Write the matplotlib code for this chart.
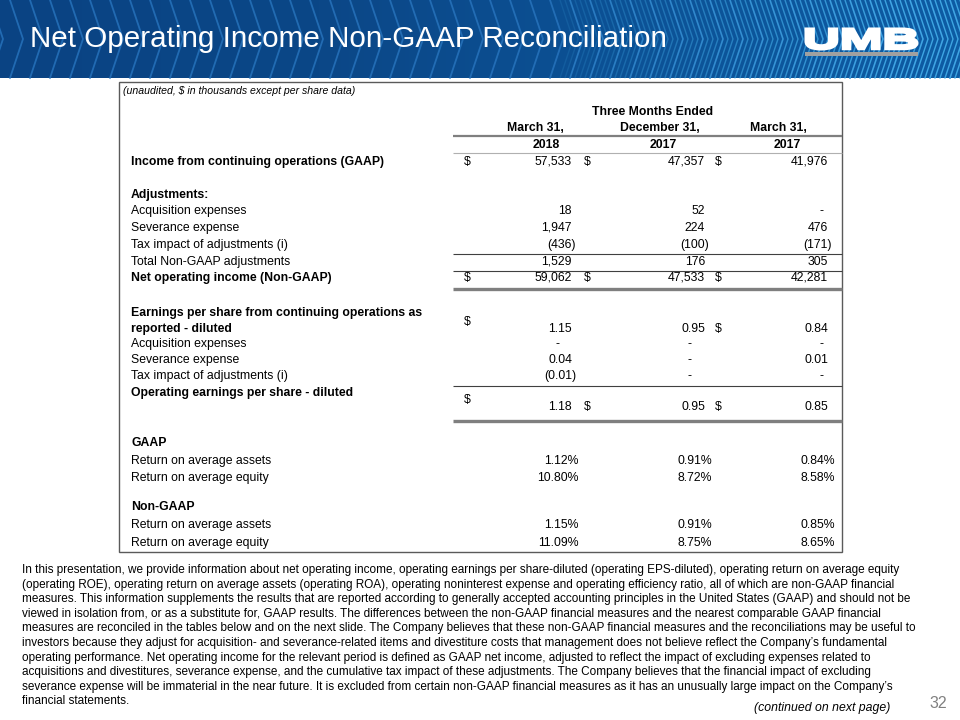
import numpy as np
import matplotlib
matplotlib.use("Agg")
import matplotlib.pyplot as plt
from matplotlib.colors import LinearSegmentedColormap
from matplotlib.textpath import TextPath
from matplotlib.font_manager import FontProperties
from matplotlib.patches import PathPatch, Rectangle
from matplotlib.transforms import Affine2D

# ---- data ----
title = "Net Operating Income Non-GAAP Reconciliation"
col_heads = ["March 31,", "December 31,", "March 31,"]
col_years = ["2018", "2017", "2017"]

row_labels = [
    "Income from continuing operations (GAAP)",
    "Adjustments:",
    "Acquisition expenses",
    "Severance expense",
    "Tax impact of adjustments (i)",
    "Total Non-GAAP adjustments",
    "Net operating income (Non-GAAP)",
    "Earnings per share from continuing operations as\nreported - diluted",
    "Acquisition expenses",
    "Severance expense",
    "Tax impact of adjustments (i)",
    "Operating earnings per share - diluted",
    "GAAP",
    "Return on average assets",
    "Return on average equity",
    "Non-GAAP",
    "Return on average assets",
    "Return on average equity",
]
row_bold = [1, 1, 0, 0, 0, 0, 1, 1, 0, 0, 0, 1, 1, 0, 0, 1, 0, 0]
row_kind = ["int"] * 7 + ["eps"] * 5 + ["pct"] * 6

mar_2018 = [57533, None, 18, 1947, -436, 1529, 59062,
            1.15, 0, 0.04, -0.01, 1.18, None, 1.12, 10.80, None, 1.15, 11.09]
dec_2017 = [47357, None, 52, 224, -100, 176, 47533,
            0.95, 0, 0, 0, 0.95, None, 0.91, 8.72, None, 0.91, 8.75]
mar_2017 = [41976, None, 0, 476, -171, 305, 42281,
            0.84, 0, 0.01, 0, 0.85, None, 0.84, 8.58, None, 0.85, 8.65]

# which cells carry a "$"
dollar_rows = {0: [1, 1, 1], 6: [1, 1, 1], 7: [1, 0, 1], 11: [1, 1, 1]}

body = [
    "In this presentation, we provide information about net operating income, operating earnings per share-diluted (operating EPS-diluted), operating return on average equity",
    "(operating ROE), operating return on average assets (operating ROA), operating noninterest expense and operating efficiency ratio, all of which are non-GAAP financial",
    "measures. This information supplements the results that are reported according to generally accepted accounting principles in the United States (GAAP) and should not be",
    "viewed in isolation from, or as a substitute for, GAAP results. The differences between the non-GAAP financial measures and the nearest comparable GAAP financial",
    "measures are reconciled in the tables below and on the next slide. The Company believes that these non-GAAP financial measures and the reconciliations may be useful to",
    "investors because they adjust for acquisition- and severance-related items and divestiture costs that management does not believe reflect the Company\u2019s fundamental",
    "operating performance. Net operating income for the relevant period is defined as GAAP net income, adjusted to reflect the impact of excluding expenses related to",
    "acquisitions and divestitures, severance expense, and the cumulative tax impact of these adjustments. The Company believes that the financial impact of excluding",
    "severance expense will be immaterial in the near future. It is excluded from certain non-GAAP financial measures as it has an unusually large impact on the Company\u2019s",
    "financial statements.",
]

# ---- layout (pixels) ----
row_y = [162, 195, 211, 228, 245, 262, 278, 329, 344, 360, 376, 407,
         443, 461, 478, 507, 525, 543]
label_y = {7: 321, 11: 393}
col_right = [572, 705, 828]
dash_x = [557, 690, 822]
dollar_x = [467, 587, 718]

TF = ["Liberation Sans", "DejaVu Sans"]
BF = ["Liberation Sans", "DejaVu Sans"]
FS = 8.8

fig = plt.figure(figsize=(9.6, 7.2), dpi=100)
ax = fig.add_axes([0, 0, 1, 1])

# header band
cmap = LinearSegmentedColormap.from_list("hdr", ["#0a4383", "#0b4787", "#0c5296", "#0e5ca4"])
ax.imshow(np.linspace(0, 1, 256)[None, :], extent=[0, 960, 78, 0], aspect="auto",
          cmap=cmap, zorder=0)
for x0 in np.arange(-30, 980, 20):
    ax.plot([x0, x0 + 13, x0], [0, 39, 78], color="#2a78c2", lw=1.3, alpha=0.75, zorder=1)
for x0 in np.arange(560, 980, 5):
    frac = (x0 - 560) / 400
    a = min(0.9, 0.15 + 0.9 * frac)
    ax.plot([x0, x0 + 13, x0], [0, 39, 78], color="#43aeea", lw=1.0, alpha=a, zorder=1)
ax.set_xlim(0, 960)
ax.set_ylim(720, 0)
ax.axis("off")

ax.text(30, 39, title, color="white", fontsize=21.3, family=BF, va="center", ha="left", zorder=3)

# UMB logo
tp = TextPath((0, 0), "UMB", size=1, prop=FontProperties(family="Liberation Sans", weight="bold"))
bb = tp.get_extents()
sx = (917 - 806) / bb.width
sy = (49 - 29) / bb.height
tr = Affine2D().translate(-bb.x0, -bb.y0).scale(sx, -sy).translate(806, 49)
ax.add_patch(PathPatch(tr.transform_path(tp), fc="white", ec="white", lw=2.2, zorder=3))
ax.add_patch(Rectangle((805, 52), 113, 3.5, fc="#a0a0a0", ec="none", zorder=3))

# table frame
ax.add_patch(Rectangle((119, 82), 842 - 119, 552 - 82, fc="none", ec="#5a5a5a", lw=1.0, zorder=2))


def t(x, y, s, ha="left", bold=False, italic=False, size=FS, fam=TF, color="black"):
    ax.text(x, y, s, ha=ha, va="center", fontsize=size, family=fam,
            fontweight="bold" if bold else "normal",
            fontstyle="italic" if italic else "normal", color=color, zorder=3)


t(123, 91, "(unaudited, $ in thousands except per share data)", italic=True, size=7.6)
t(653, 112, "Three Months Ended", ha="center", bold=True)
for x, h in zip([535, 660, 778], col_heads):
    t(x, 128, h, ha="center", bold=True)
for x, yr in zip([546, 663, 787], col_years):
    t(x, 145, yr, ha="center", bold=True)


# rules
def rule(y, lw, color):
    ax.plot([453, 842], [y, y], color=color, lw=lw, solid_capstyle="butt", zorder=2)


rule(136, 1.6, "#7f7f7f")
rule(153, 0.8, "#b0b0b0")
rule(254, 0.8, "#404040")
rule(271, 0.8, "#404040")
rule(288.5, 2.4, "#7f7f7f")
rule(386, 0.8, "#404040")
rule(420.5, 2.4, "#7f7f7f")


def fmt(v, kind):
    if v is None:
        return ""
    if v == 0:
        return "-"
    if kind == "int":
        s = f"{abs(v):,.0f}"
    elif kind == "eps":
        s = f"{abs(v):.2f}"
    else:
        s = f"{abs(v):.2f}%"
    return f"({s})" if v < 0 else s


columns = [mar_2018, dec_2017, mar_2017]
for i, lab in enumerate(row_labels):
    y = row_y[i]
    ly = label_y.get(i, y)
    if "\n" in lab:
        first, second = lab.split("\n")
        t(131, 313, first, bold=row_bold[i])
        t(131, 329, second, bold=row_bold[i])
    else:
        t(131, ly, lab, bold=row_bold[i])
    for c, vals in enumerate(columns):
        v = vals[i]
        s = fmt(v, row_kind[i])
        if s == "":
            continue
        if s == "-":
            t(dash_x[c], y, s, ha="center")
        elif s.startswith("("):
            t(col_right[c] + 4, y, s, ha="right")
        elif s.endswith("%"):
            t(col_right[c] + 7, y, s, ha="right")
        else:
            t(col_right[c], y, s, ha="right")
    if i in dollar_rows:
        for c, flag in enumerate(dollar_rows[i]):
            if flag:
                dy = y - 7 if (c == 0 and i in (7, 11)) else y
                t(dollar_x[c], dy, "$", ha="center")

# body paragraph
for k, line in enumerate(body):
    t(22, 570 + k * 14.6, line, size=8.5, fam=BF)

t(822, 708, "(continued on next page)", ha="center", italic=True, size=8.8, fam=BF)
t(947, 704, "32", ha="right", size=11.5, fam=BF, color="#808080")

fig.savefig("out.png", dpi=100)
